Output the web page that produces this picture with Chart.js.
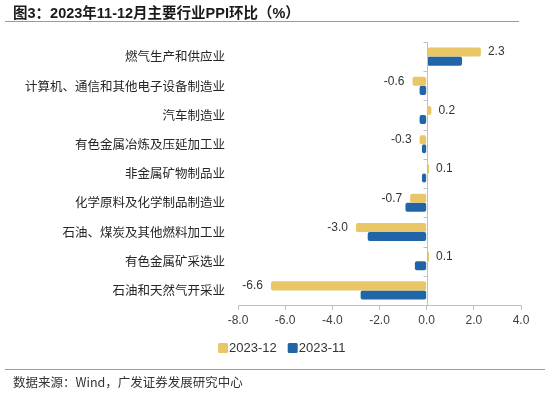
<!DOCTYPE html>
<html><head><meta charset="utf-8">
<script src="https://cdn.jsdelivr.net/npm/chart.js@4"></script>
<style>
html,body{margin:0;padding:0;background:#fff;}
#wrap{position:relative;width:550px;height:394px;overflow:hidden;}
#title{position:absolute;left:13px;top:1px;font:bold 14.5px "Liberation Sans","Noto Sans CJK SC",sans-serif;color:#1a1a1a;white-space:nowrap;}
#tline{position:absolute;left:5px;top:21px;width:514px;height:0;border-top:1.5px solid #9a9a9a;}
#sline{position:absolute;left:5px;top:369px;width:540px;height:0;border-top:1.5px solid #9a9a9a;}
#source{position:absolute;left:13px;top:372px;font:12.5px "Noto Sans CJK SC","Liberation Sans",sans-serif;color:#333;white-space:nowrap;}
canvas{position:absolute;left:0;top:0;}
</style></head><body>
<div id="wrap">
<canvas id="c" width="550" height="394"></canvas>
<div id="title">图3：2023年11-12月主要行业PPI环比（%）</div>
<div id="tline"></div>
<div id="sline"></div>
<div id="source">数据来源：Wind，广发证券发展研究中心</div>
</div>
<script>
const categories = ["燃气生产和供应业","计算机、通信和其他电子设备制造业","汽车制造业","有色金属冶炼及压延加工业","非金属矿物制品业","化学原料及化学制品制造业","石油、煤炭及其他燃料加工业","有色金属矿采选业","石油和天然气开采业"];
const seriesNames = ["2023-12","2023-11"];
const dec2023 = [2.3,-0.6,0.2,-0.3,0.1,-0.7,-3.0,0.1,-6.6];
const nov2023 = [1.5,-0.3,-0.3,-0.2,-0.2,-0.9,-2.5,-0.5,-2.8];
const xTicks = [-8,-6,-4,-2,0,2,4];

const zeroLine = {
  id:'zeroLine',
  afterDatasetsDraw(chart){
    const {ctx, chartArea, scales} = chart;
    const x0 = Math.round(scales.x.getPixelForValue(0))+0.5;
    ctx.save();
    ctx.strokeStyle = '#c0c0c0';
    ctx.lineWidth = 1;
    ctx.beginPath();
    ctx.moveTo(x0, chartArea.top);
    ctx.lineTo(x0, chartArea.bottom);
    const n = categories.length;
    for(let i=0;i<=n;i++){
      const y = Math.round(scales.y.getPixelForValue(i-0.5))+0.5;
      ctx.moveTo(x0-4, y);
      ctx.lineTo(x0, y);
    }
    ctx.stroke();
    ctx.restore();
  }
};
const dataLabels = {
  id:'dataLabels',
  afterDatasetsDraw(chart){
    const {ctx} = chart;
    const meta = chart.getDatasetMeta(0);
    ctx.save();
    ctx.font = '12px "Liberation Sans", Arial, sans-serif';
    ctx.fillStyle = '#333';
    ctx.textBaseline = 'middle';
    meta.data.forEach((el,i)=>{
      const v = dec2023[i];
      const t = v.toFixed(1);
      if(v>=0){ ctx.textAlign='left'; ctx.fillText(t, el.x+7, el.y); }
      else { ctx.textAlign='right'; ctx.fillText(t, el.x-8, el.y); }
    });
    ctx.restore();
  }
};
const customLegend = {
  id:'customLegend',
  afterDraw(chart){
    const {ctx} = chart;
    ctx.save();
    ctx.font = '13px "Liberation Sans", Arial, sans-serif';
    ctx.textBaseline = 'middle';
    ctx.textAlign = 'left';
    let x = 218;
    const yc = chart.chartArea.bottom + 43;
    chart.data.datasets.forEach(ds=>{
      ctx.fillStyle = ds.backgroundColor;
      ctx.beginPath();
      ctx.roundRect ? ctx.roundRect(x, yc-5, 10, 10, 1.5) : ctx.rect(x, yc-5, 10, 10);
      ctx.fill();
      ctx.fillStyle = '#333';
      ctx.fillText(ds.label, x+11, yc+0.5);
      x += 11 + ctx.measureText(ds.label).width + 11;
    });
    ctx.restore();
  }
};

new Chart(document.getElementById('c'), {
  type:'bar',
  data:{
    labels: categories,
    datasets:[
      {label:seriesNames[0], data:dec2023, backgroundColor:'#E9C766', borderRadius:2, borderSkipped:false},
      {label:seriesNames[1], data:nov2023, backgroundColor:'#1F65A7', borderRadius:2, borderSkipped:false}
    ]
  },
  options:{
    indexAxis:'y',
    responsive:false,
    animation:false,
    events:[],
    categoryPercentage:0.62,
    barPercentage:1.0,
    layout:{padding:{left:10,right:29,top:42,bottom:58}},
    scales:{
      x:{
        min:-8,max:4,
        afterBuildTicks(s){ s.ticks = xTicks.map(v=>({value:v})); },
        afterFit(s){ s.height = 31; },
        grid:{drawOnChartArea:false, drawTicks:true, tickLength:5, color:'#c0c0c0'},
        border:{display:true, color:'#c0c0c0'},
        ticks:{callback:v=>Number(v).toFixed(1), font:{size:12, family:'"Liberation Sans", Arial, sans-serif'}, color:'#404040', padding:3, maxRotation:0}
      },
      y:{
        afterFit(s){ s.width = 228; },
        grid:{display:false},
        border:{display:false},
        ticks:{font:{size:12.5, family:'"Noto Sans CJK SC", sans-serif'}, color:'#262626', padding:5}
      }
    },
    plugins:{
      legend:{display:false},
      tooltip:{enabled:false},
      title:{display:false}
    }
  },
  plugins:[zeroLine, dataLabels, customLegend]
});
</script>
</body></html>
